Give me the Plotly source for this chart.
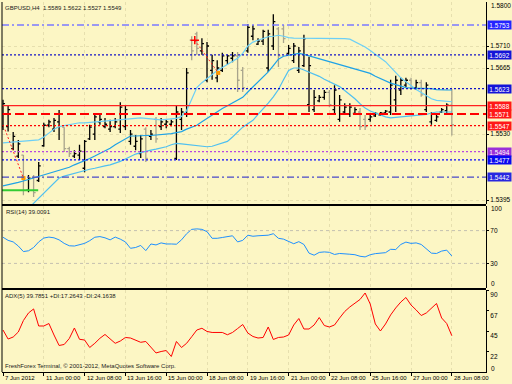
import plotly.graph_objects as go

# ---------------- data ----------------
header_text = "GBPUSD,H4  1.5589 1.5622 1.5527 1.5549"
rsi_title = "RSI(14) 39.0091"
adx_title = "ADX(5) 39.7851 +DI:17.2643 -DI:24.1638"
copyright_text = "FreshForex Terminal, \u00a9 2001-2012, MetaQuotes Software Corp."

bar_index = list(range(89))

opens = [1.5545, 1.5545, 1.5500, 1.5485, 1.5487, 1.5415, 1.5440, 1.5435, 1.5506, 1.5548,
         1.5540, 1.5555, 1.5544, 1.5500, 1.5485, 1.5487, 1.5460, 1.5520, 1.5530, 1.5555,
         1.5545, 1.5540, 1.5545, 1.5540, 1.5545, 1.5515, 1.5505, 1.5490, 1.5540, 1.5525,
         1.5560, 1.5545, 1.5550, 1.5550, 1.5480, 1.5560, 1.5570, 1.5722, 1.5735, 1.5700,
         1.5640, 1.5660, 1.5645, 1.5660, 1.5680, 1.5685, 1.5690, 1.5660, 1.5700, 1.5730,
         1.5714, 1.5720, 1.5665, 1.5710, 1.5745, 1.5745, 1.5695, 1.5680, 1.5660, 1.5670,
         1.5590, 1.5580, 1.5598, 1.5605, 1.5615, 1.5580, 1.5560, 1.5575, 1.5570, 1.5572,
         1.5575, 1.5560, 1.5560, 1.5567, 1.5569, 1.5573, 1.5575, 1.5600, 1.5620, 1.5630,
         1.5640, 1.5625, 1.5635, 1.5580, 1.5555, 1.5558, 1.5575, 1.5578, 1.5589]
highs = [1.5600, 1.5589, 1.5534, 1.5518, 1.5487, 1.5446, 1.5446, 1.5473, 1.5553, 1.5559,
         1.5563, 1.5579, 1.5544, 1.5504, 1.5497, 1.5508, 1.5518, 1.5549, 1.5573, 1.5573,
         1.5563, 1.5559, 1.5563, 1.5595, 1.5589, 1.5538, 1.5528, 1.5528, 1.5544, 1.5538,
         1.5565, 1.5563, 1.5559, 1.5559, 1.5589, 1.5583, 1.5665, 1.5730, 1.5739, 1.5726,
         1.5718, 1.5692, 1.5681, 1.5696, 1.5692, 1.5698, 1.5698, 1.5667, 1.5755, 1.5753,
         1.5726, 1.5743, 1.5743, 1.5775, 1.5749, 1.5753, 1.5712, 1.5716, 1.5708, 1.5733,
         1.5688, 1.5620, 1.5610, 1.5620, 1.5620, 1.5630, 1.5610, 1.5593, 1.5593, 1.5585,
         1.5583, 1.5569, 1.5573, 1.5575, 1.5575, 1.5579, 1.5641, 1.5649, 1.5645, 1.5645,
         1.5645, 1.5641, 1.5641, 1.5636, 1.5575, 1.5569, 1.5583, 1.5593, 1.5622]
lows = [1.5538, 1.5535, 1.5497, 1.5481, 1.5405, 1.5411, 1.5401, 1.5432, 1.5504, 1.5544,
        1.5534, 1.5518, 1.5493, 1.5483, 1.5481, 1.5477, 1.5452, 1.5518, 1.5518, 1.5549,
        1.5542, 1.5534, 1.5542, 1.5532, 1.5538, 1.5508, 1.5497, 1.5481, 1.5473, 1.5518,
        1.5512, 1.5538, 1.5542, 1.5546, 1.5477, 1.5538, 1.5565, 1.5681, 1.5692, 1.5692,
        1.5636, 1.5641, 1.5636, 1.5657, 1.5671, 1.5677, 1.5616, 1.5616, 1.5696, 1.5722,
        1.5712, 1.5712, 1.5657, 1.5702, 1.5667, 1.5716, 1.5692, 1.5675, 1.5655, 1.5667,
        1.5575, 1.5575, 1.5595, 1.5600, 1.5585, 1.5573, 1.5555, 1.5569, 1.5565, 1.5569,
        1.5538, 1.5538, 1.5555, 1.5565, 1.5567, 1.5571, 1.5569, 1.5575, 1.5610, 1.5626,
        1.5620, 1.5620, 1.5606, 1.5575, 1.5549, 1.5555, 1.5573, 1.5573, 1.5527]
closes = [1.5592, 1.5580, 1.5525, 1.5510, 1.5440, 1.5440, 1.5410, 1.5465, 1.5548, 1.5555,
          1.5558, 1.5570, 1.5500, 1.5490, 1.5490, 1.5495, 1.5515, 1.5544, 1.5565, 1.5560,
          1.5550, 1.5545, 1.5555, 1.5585, 1.5580, 1.5530, 1.5515, 1.5520, 1.5480, 1.5530,
          1.5520, 1.5555, 1.5555, 1.5555, 1.5575, 1.5575, 1.5655, 1.5700, 1.5705, 1.5715,
          1.5710, 1.5680, 1.5665, 1.5690, 1.5690, 1.5690, 1.5640, 1.5625, 1.5748, 1.5745,
          1.5720, 1.5740, 1.5735, 1.5760, 1.5690, 1.5725, 1.5705, 1.5710, 1.5700, 1.5725,
          1.5670, 1.5605, 1.5605, 1.5615, 1.5590, 1.5620, 1.5600, 1.5585, 1.5585, 1.5580,
          1.5545, 1.5545, 1.5565, 1.5572, 1.5573, 1.5577, 1.5630, 1.5640, 1.5640, 1.5640,
          1.5625, 1.5635, 1.5610, 1.5630, 1.5570, 1.5565, 1.5580, 1.5589, 1.5549]

ma_a = [1.5512, 1.5513, 1.5514, 1.5515, 1.5515, 1.5516, 1.5517, 1.5518, 1.5524, 1.5532,
        1.5540, 1.5545, 1.5547, 1.5550, 1.5552, 1.5553, 1.5553, 1.5554, 1.5554, 1.5555,
        1.5556, 1.5557, 1.5558, 1.5559, 1.5560, 1.5561, 1.5562, 1.5563, 1.5562, 1.5561,
        1.5560, 1.5559, 1.5560, 1.5561, 1.5562, 1.5566, 1.5578, 1.5601, 1.5625, 1.5635,
        1.5644, 1.5653, 1.5660, 1.5666, 1.5672, 1.5679, 1.5685, 1.5695, 1.5710, 1.5718,
        1.5722, 1.5726, 1.5729, 1.5730, 1.5732, 1.5730, 1.5727, 1.5726, 1.5726, 1.5726,
        1.5726, 1.5726, 1.5726, 1.5726, 1.5725, 1.5725, 1.5725, 1.5725, 1.5724, 1.5719,
        1.5714, 1.5708, 1.5701, 1.5693, 1.5686, 1.5678, 1.5667, 1.5656, 1.5645, 1.5637,
        1.5629, 1.5621, 1.5615, 1.5608, 1.5602, 1.5599, 1.5598, 1.5597, 1.5596]
ma_b = [1.5424, 1.5426, 1.5429, 1.5431, 1.5434, 1.5437, 1.5441, 1.5444, 1.5447, 1.5450,
        1.5453, 1.5456, 1.5459, 1.5462, 1.5467, 1.5471, 1.5475, 1.5480, 1.5485, 1.5490,
        1.5495, 1.5501, 1.5508, 1.5514, 1.5520, 1.5526, 1.5526, 1.5527, 1.5527, 1.5527,
        1.5528, 1.5528, 1.5529, 1.5531, 1.5533, 1.5535, 1.5540, 1.5544, 1.5548, 1.5555,
        1.5562, 1.5569, 1.5575, 1.5582, 1.5588, 1.5594, 1.5600, 1.5605, 1.5616, 1.5626,
        1.5636, 1.5647, 1.5657, 1.5670, 1.5683, 1.5689, 1.5691, 1.5693, 1.5695, 1.5693,
        1.5690, 1.5687, 1.5684, 1.5682, 1.5679, 1.5676, 1.5673, 1.5670, 1.5667, 1.5664,
        1.5661, 1.5658, 1.5654, 1.5648, 1.5643, 1.5638, 1.5634, 1.5631, 1.5628, 1.5625,
        1.5624, 1.5624, 1.5624, 1.5624, 1.5623, 1.5621, 1.5620, 1.5620, 1.5620]
ma_c = [None, None, None, None, None, 1.5378, 1.5388, 1.5399, 1.5409, 1.5419,
        1.5430, 1.5440, 1.5444, 1.5447, 1.5450, 1.5453, 1.5455, 1.5458, 1.5460, 1.5463,
        1.5465, 1.5467, 1.5470, 1.5474, 1.5479, 1.5484, 1.5489, 1.5492, 1.5495, 1.5497,
        1.5499, 1.5501, 1.5504, 1.5508, 1.5511, 1.5510, 1.5509, 1.5507, 1.5506, 1.5505,
        1.5504, 1.5505, 1.5508, 1.5511, 1.5515, 1.5524, 1.5534, 1.5544, 1.5551, 1.5558,
        1.5570, 1.5581, 1.5593, 1.5606, 1.5621, 1.5641, 1.5660, 1.5665, 1.5665, 1.5661,
        1.5657, 1.5652, 1.5648, 1.5642, 1.5637, 1.5632, 1.5627, 1.5619, 1.5611, 1.5602,
        1.5592, 1.5583, 1.5577, 1.5573, 1.5569, 1.5565, 1.5563, 1.5564, 1.5564, 1.5565,
        1.5567, 1.5567, 1.5568, 1.5570, 1.5573, 1.5575, 1.5575, 1.5575, 1.5575]

rsi = [61.9, 58.1, 56.2, 51.2, 44.4, 45.4, 49.4, 56.2, 60.9, 62.1,
       61.2, 58.7, 54.4, 51.5, 51.2, 52.5, 54.4, 57.7, 61.9, 62.7,
       61.2, 58.7, 62.1, 59.6, 56.2, 48.4, 49.4, 51.9, 45.6, 53.7,
       52.5, 55.0, 53.7, 53.7, 53.4, 58.7, 66.2, 71.5, 72.1, 71.5,
       68.7, 60.6, 60.6, 61.6, 63.1, 63.7, 56.2, 58.1, 64.4, 63.1,
       63.7, 63.7, 64.4, 66.2, 60.6, 59.6, 56.9, 54.0, 56.5, 53.1,
       42.5, 40.0, 43.4, 44.0, 43.5, 40.9, 42.1, 41.2, 41.2, 40.6,
       38.7, 37.9, 40.6, 41.9, 42.5, 43.1, 47.2, 46.9, 53.1, 56.0,
       54.4, 55.0, 53.1, 47.5, 42.5, 42.1, 45.0, 46.2, 39.0091]
adx = [46.1, 36.2, 38.4, 43.9, 56.5, 64.8, 69.2, 50.5, 50.5, 53.2,
       40.6, 29.1, 30.2, 36.8, 48.3, 35.9, 35.1, 26.9, 31.5, 37.0,
       41.2, 36.2, 31.5, 34.0, 37.9, 37.3, 35.3, 32.6, 33.5, 26.9,
       20.9, 22.5, 23.6, 17.0, 33.5, 26.9, 31.5, 38.7, 46.1, 48.0,
       44.5, 43.4, 43.6, 43.4, 40.9, 43.4, 47.7, 52.1, 42.8, 39.0,
       37.3, 37.9, 49.4, 35.7, 37.9, 38.4, 40.6, 51.6, 58.7, 47.2,
       47.2, 51.6, 59.8, 51.0, 49.4, 51.6, 59.3, 66.4, 71.4, 75.7,
       79.6, 86.7, 74.6, 52.7, 45.0, 52.7, 62.6, 70.3, 76.8, 81.8,
       73.5, 68.1, 62.0, 64.8, 70.3, 75.2, 59.3, 53.2, 39.7851]

level_prices = [1.5753, 1.5692, 1.5623, 1.5588, 1.5571, 1.5547, 1.5494, 1.5477, 1.5442]
level_labels = ["1.5753", "1.5692", "1.5623", "1.5588", "1.5571", "1.5547", "1.5494", "1.5477", "1.5442"]

price_ticks = [1.5710, 1.5665, 1.5530, 1.5395]
price_tick_text = ["1.5710", "1.5665", "1.5530", "1.5395"]
price_top_value = 1.5800
price_top_text = "1.5800"
rsi_levels = [70, 30]
rsi_tick_text = ["70", "30"]
rsi_edge_values = [100, 0]
rsi_edge_text = ["100", "0"]
adx_ticks = [90, 67, 45, 22]
adx_tick_text = ["90", "67", "45", "22"]
adx_zero_text = "0"

date_tick_idx = [0, 8, 16, 24, 32, 40, 48, 56, 64, 72, 80, 88]
date_tick_text = ["7 Jun 2012", "11 Jun 00:00", "12 Jun 08:00", "13 Jun 16:00",
                  "15 Jun 00:00", "18 Jun 08:00", "19 Jun 16:00", "21 Jun 00:00",
                  "22 Jun 08:00", "25 Jun 16:00", "27 Jun 00:00", "28 Jun 08:00"]

green_idx = [-0.2, 6.9]
green_price = [1.5415, 1.5415]

trade1_idx = [0.4, 4.0]
trade1_price = [1.5539, 1.5440]
trade2_idx = [37.6, 42.2]
trade2_price = [1.5722, 1.5655]

# ---------------- styles ----------------
BG = "#fcf6c4"
FONT = "Liberation Sans, Arial, sans-serif"
level_colors = ["#7a7aff", "#1212c8", "#1212c8", "#ff2020", "#ff0000", "#ff0000", "#b848e0", "#0a0aff", "#4848c8"]
level_dashes = ["7px,3px,2px,3px", "2px,2px", "2px,2px", "solid", "9px,4px", "2px,2px", "2px,2px", "2px,2px", "7px,3px,2px,3px"]
level_widths = [1.3, 1.3, 1.3, 1.2, 1.8, 1.3, 1.3, 1.3, 1.3]
level_box_colors = ["#2424ff", "#1414d8", "#1414d8", "#ff1818", "#ff1818", "#ff1818", "#9a30d8", "#0808f0", "#2828e0"]

MAIN_DOM = [0.45405, 1.0]
RSI_DOM = [0.22703, 0.44865]
ADX_DOM = [0.0, 0.22162]

fig = go.Figure()

fig.add_trace(go.Ohlc(
    x=bar_index, open=opens, high=highs, low=lows, close=closes,
    increasing=dict(line=dict(color="#000000", width=1.3)),
    decreasing=dict(line=dict(color="#a8a48c", width=1.3)),
    tickwidth=0.4, hoverinfo="skip", xaxis="x", yaxis="y"))

for vals, col in [(ma_a, "#6ccff6"), (ma_b, "#1ea2e6"), (ma_c, "#50c0f0")]:
    fig.add_trace(go.Scatter(x=bar_index, y=vals, mode="lines",
                             line=dict(color=col, width=1.2),
                             hoverinfo="skip", xaxis="x", yaxis="y"))

fig.add_trace(go.Scatter(x=green_idx, y=green_price, mode="lines",
                         line=dict(color="#33cc33", width=2), xaxis="x", yaxis="y"))

for ti, tp in [(trade1_idx, trade1_price), (trade2_idx, trade2_price)]:
    fig.add_trace(go.Scatter(x=ti, y=tp, mode="lines",
                             line=dict(color="#ff2020", width=1, dash="2px,2px"),
                             xaxis="x", yaxis="y"))
    fig.add_trace(go.Scatter(x=[ti[1]], y=[tp[1]], mode="markers",
                             marker=dict(color="#ff9900", size=4, symbol="square"),
                             xaxis="x", yaxis="y"))
fig.add_trace(go.Scatter(x=[trade2_idx[0]], y=[trade2_price[0]], mode="markers",
                         marker=dict(color="#ff0000", size=6, symbol="cross-thin",
                                     line=dict(color="#ff0000", width=1.5)),
                         xaxis="x", yaxis="y"))

fig.add_trace(go.Scatter(x=bar_index, y=rsi, mode="lines",
                         line=dict(color="#1e90ff", width=1), xaxis="x", yaxis="y2"))
fig.add_trace(go.Scatter(x=bar_index, y=adx, mode="lines",
                         line=dict(color="#ff0000", width=1), xaxis="x", yaxis="y3"))

shapes = []
for p, c, d, w in zip(level_prices, level_colors, level_dashes, level_widths):
    shapes.append(dict(type="line", xref="paper", x0=0, x1=1, yref="y", y0=p, y1=p,
                       line=dict(color=c, width=w, dash=d)))
for lv in rsi_levels:
    shapes.append(dict(type="line", xref="paper", x0=0, x1=1, yref="y2", y0=lv, y1=lv,
                       line=dict(color="#c4c0b0", width=1, dash="3px,3px")))
for yy in [0.45135, 0.22432]:
    shapes.append(dict(type="line", xref="paper", x0=0, x1=1, yref="paper", y0=yy, y1=yy,
                       line=dict(color="#000000", width=2)))
shapes.append(dict(type="line", xref="paper", x0=0, x1=0, yref="paper", y0=0, y1=1,
                   line=dict(color="#000000", width=1)))

small = dict(family=FONT, size=6.5, color="#000000")
annotations = []
for p, t, bc in zip(level_prices, level_labels, level_box_colors):
    annotations.append(dict(x=1, xref="paper", xanchor="left", xshift=1,
                            y=p, yref="y", yanchor="middle", text=t, showarrow=False,
                            bgcolor=bc, font=dict(family=FONT, size=6.5, color="#ffffff"),
                            width=23, height=8, borderpad=0))
annotations.append(dict(x=1, xref="paper", xanchor="left", xshift=3, y=price_top_value,
                        yref="y", yanchor="top", yshift=2, text=price_top_text,
                        showarrow=False, font=small))
annotations.append(dict(x=0, xref="paper", xanchor="left", xshift=1, y=1, yref="paper",
                        yanchor="top", yshift=-1, text=header_text, showarrow=False,
                        font=dict(family=FONT, size=6, color="#1a1a1a")))
annotations.append(dict(x=0, xref="paper", xanchor="left", xshift=2, y=RSI_DOM[1], yref="paper",
                        yanchor="top", yshift=-1, text=rsi_title, showarrow=False,
                        font=dict(family=FONT, size=6, color="#1a1a1a")))
annotations.append(dict(x=0, xref="paper", xanchor="left", xshift=1, y=ADX_DOM[1], yref="paper",
                        yanchor="top", yshift=-1, text=adx_title, showarrow=False,
                        font=dict(family=FONT, size=6, color="#1a1a1a")))
annotations.append(dict(x=0, xref="paper", xanchor="left", xshift=1, y=0, yref="paper",
                        yanchor="bottom", yshift=1, text=copyright_text, showarrow=False,
                        font=dict(family=FONT, size=6, color="#1a1a1a")))
for i, t in zip(date_tick_idx, date_tick_text):
    annotations.append(dict(x=i, xref="x", xanchor="left", xshift=0, y=0, yref="paper",
                            yanchor="top", yshift=-1, text=t, showarrow=False,
                            font=dict(family=FONT, size=6, color="#000000")))
for v, t, sh in zip(rsi_edge_values, rsi_edge_text, [-3, 4]):
    annotations.append(dict(x=1, xref="paper", xanchor="left", xshift=3, y=v, yref="y2",
                            yanchor="middle", yshift=sh, text=t, showarrow=False, font=small))
annotations.append(dict(x=1, xref="paper", xanchor="left", xshift=3, y=0, yref="y3",
                        yanchor="middle", yshift=4, text=adx_zero_text, showarrow=False, font=small))

grid_col = "#e6dfae"
fig.update_layout(
    width=512, height=384, autosize=False,
    margin=dict(l=2, r=26, t=2, b=12),
    paper_bgcolor=BG, plot_bgcolor=BG,
    showlegend=False, hovermode=False,
    shapes=shapes, annotations=annotations,
    xaxis=dict(domain=[0, 1], range=[-0.196, 94.7], anchor="y3",
               tickvals=date_tick_idx, showticklabels=False, ticks="outside",
               ticklen=3, tickcolor="#000000", showline=True, linecolor="#000000",
               linewidth=1, showgrid=True, gridcolor=grid_col, griddash="dot",
               zeroline=False, rangeslider=dict(visible=False)),
    yaxis=dict(domain=MAIN_DOM, range=[1.53869, 1.58000], anchor="x", side="right",
               tickvals=price_ticks, ticktext=price_tick_text, tickfont=small,
               ticks="outside", ticklen=2, tickcolor="#000000",
               showline=True, linecolor="#000000", linewidth=1,
               showgrid=True, gridcolor=grid_col, griddash="dot", zeroline=False),
    yaxis2=dict(domain=RSI_DOM, range=[0, 100], anchor="x", side="right",
                tickvals=rsi_levels, ticktext=rsi_tick_text, tickfont=small,
                ticks="outside", ticklen=2, tickcolor="#000000",
                showline=True, linecolor="#000000", linewidth=1,
                showgrid=False, zeroline=False),
    yaxis3=dict(domain=ADX_DOM, range=[0, 90], anchor="x", side="right",
                tickvals=adx_ticks, ticktext=adx_tick_text, tickfont=small,
                ticklabelshift=5,
                ticks="outside", ticklen=2, tickcolor="#000000",
                showline=True, linecolor="#000000", linewidth=1,
                showgrid=False, zeroline=False),
)

fig.write_html("out.html", config={"displayModeBar": False},
               post_script="document.body.style.margin='0';document.body.style.background='" + BG + "';")
